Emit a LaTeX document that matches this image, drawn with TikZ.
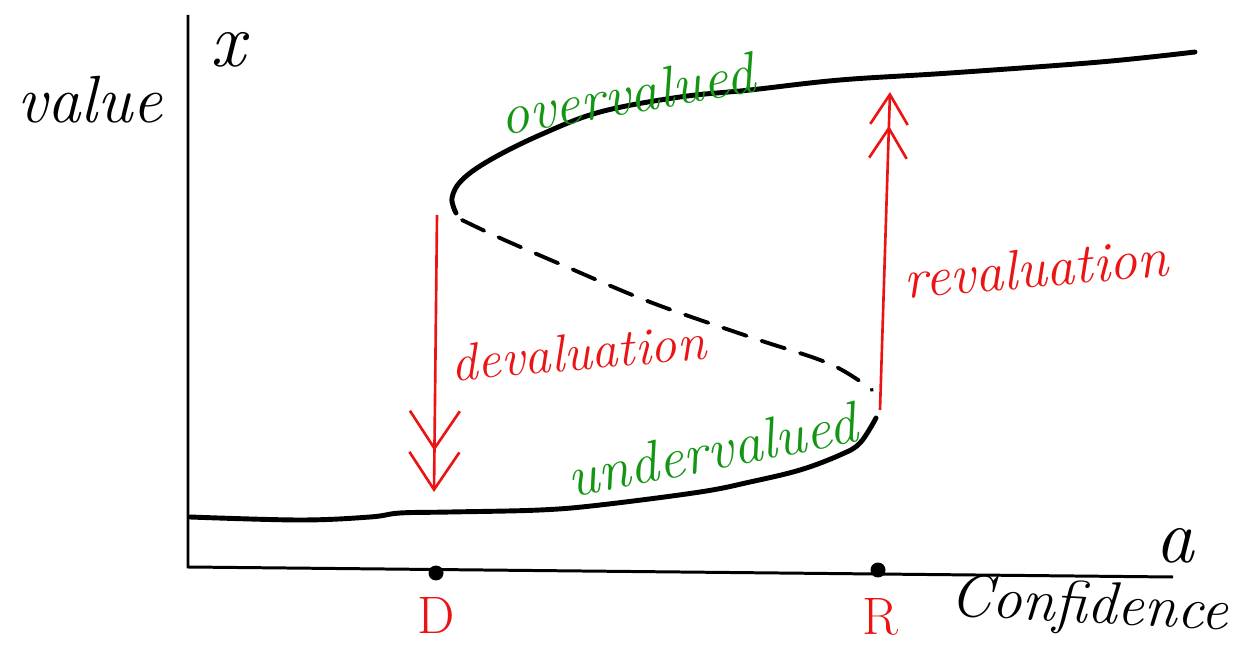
\documentclass[tikz,border=0pt]{standalone}
\usetikzlibrary{arrows.meta}
\definecolor{hgreen}{RGB}{20,150,20}
\definecolor{hred}{RGB}{235,20,20}
\tikzset{
  axis/.style={line width=1.7pt, black},
  curve/.style={line width=2.8pt, black, line cap=round},
  jump/.style={line width=1.5pt, hred, -{Straight Barb[length=0.75cm,width=1cm,line width=1.5pt] Straight Barb[length=0.75cm,width=1cm,line width=1.5pt]}},
  jumpsmall/.style={line width=1.5pt, hred, -{Straight Barb[length=0.6cm,width=0.75cm,line width=1.5pt] Straight Barb[length=0.6cm,width=0.75cm,line width=1.5pt]}},
  hand/.style={inner sep=0pt},
  greenlbl/.style={hand, text=hgreen},
  redlbl/.style={hand, text=hred},
  blacklbl/.style={hand, text=black},
  dot/.style={circle, fill=black, inner sep=0pt, minimum size=0.3cm},
}
\newcommand{\hf}[1]{\fontsize{#1}{#1}\selectfont\itshape}
\begin{document}
\begin{tikzpicture}[x=0.02cm, y=-0.02cm]
\useasboundingbox (0,0) rectangle (1235,645);
% axes
\coordinate (O) at (188,567);
\coordinate (ytop) at (188,15);
\coordinate (xend) at (1173,577);
\draw[axis] (ytop) -- (O) -- (xend);
% curve: upper branch
\draw[curve] plot[smooth, tension=0.6] coordinates {(456,213) (452,198) (462,180) (490,160) (540,135) (600,112) (680,97) (750,90) (840,80) (950,73) (1100,62) (1195,52)};
% dashed middle branch
\draw[curve, line width=2.2pt, dash pattern=on 14pt off 9pt] plot[smooth, tension=0.6] coordinates {(462,220) (500,238) (560,264) (650,302) (750,337) (830,364) (872,390)};
% lower branch
\draw[curve] plot[smooth, tension=0.6] coordinates {(876,418) (860,443) (840,455) (800,470) (750,482) (700,492) (600,505) (540,510) (450,512) (400,513) (370,517) (300,520) (190,517)};
% points D and R
\node[dot] (Dp) at (436,573) {};
\node[dot] (Rp) at (878,570) {};
\node[redlbl, font=\hf{30}\upshape] (D) at (436,615) {D};
\node[redlbl, font=\hf{30}\upshape] (R) at (880,617) {R};
% jump arrows
\coordinate (dtop) at (437,215);
\coordinate (dbot) at (434,492);
\draw[jump] (dtop) -- (dbot);
\coordinate (rbot) at (880,410);
\coordinate (rtop) at (890,92);
\draw[jumpsmall] (rbot) -- (rtop);
% labels
\node[blacklbl, font=\hf{38}] (val) at (90,100) {value};
\node[blacklbl, font=\hf{44}] (xl) at (228,50) {x};
\node[blacklbl, font=\hf{44}] (al) at (1175,546) {a};
\node[blacklbl, font=\hf{34}, rotate=-3] (conf) at (1089,608) {Confidence};
\node[greenlbl, font=\hf{33}, rotate=10] (over) at (627,94) {overvalued};
\node[greenlbl, font=\hf{33}, rotate=11] (under) at (712,450) {undervalued};
\node[redlbl, font=\hf{30}, rotate=5] (deval) at (578,352) {devaluation};
\node[redlbl, font=\hf{32}, rotate=5] (reval) at (1036,268) {revaluation};
\end{tikzpicture}
\end{document}
